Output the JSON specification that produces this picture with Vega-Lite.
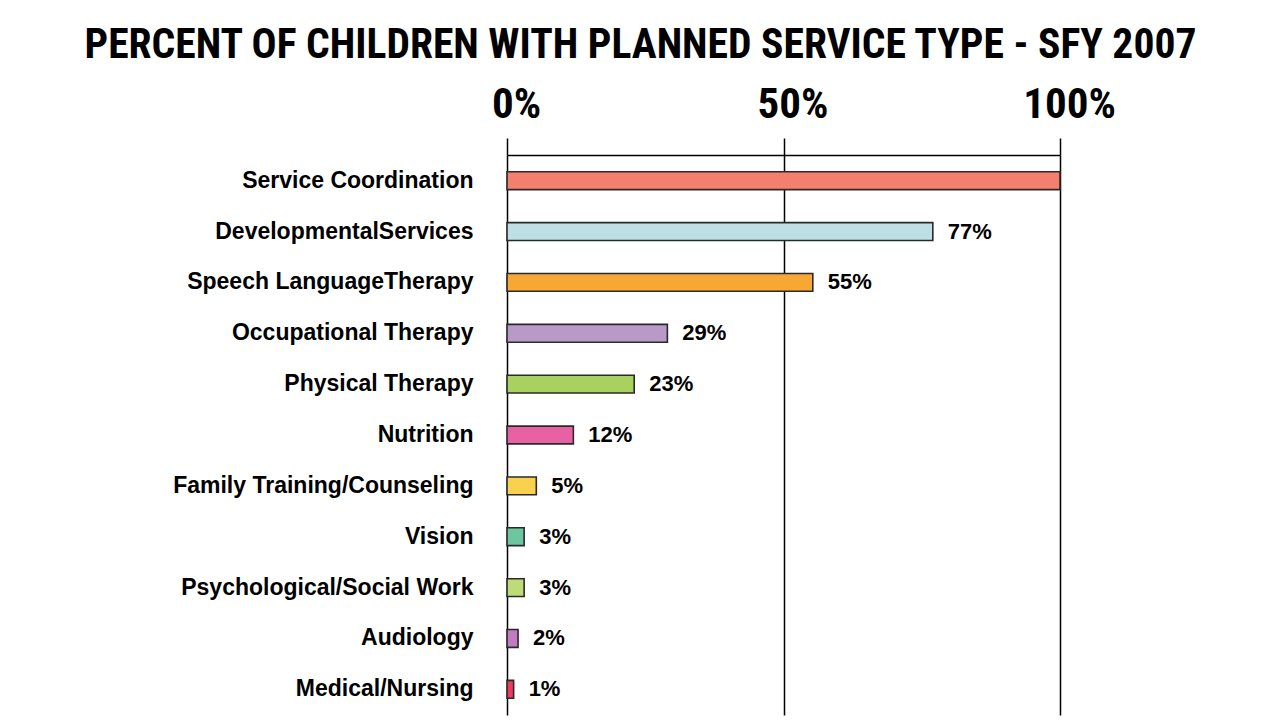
{
  "$schema": "https://vega.github.io/schema/vega-lite/v6.json",
  "width": 553,
  "height": 560,
  "autosize": {"type": "none"},
  "padding": {"left": 507, "top": 155, "right": 211, "bottom": 8},
  "background": "white",
  "title": {
    "text": "PERCENT OF CHILDREN WITH PLANNED SERVICE TYPE - SFY 2007",
    "font": "Roboto Condensed, Liberation Sans, sans-serif",
    "fontSize": 41.6,
    "fontWeight": "bold",
    "color": "#000000",
    "anchor": "middle",
    "dx": -143,
    "offset": 16
  },
  "config": {
    "view": {"stroke": null},
    "axis": {"labelColor": "#000000"}
  },
  "data": {
    "values": [
      {"service": "Service Coordination", "value": 100, "label": "", "order": 1},
      {"service": "DevelopmentalServices", "value": 77, "label": "77%", "order": 2},
      {"service": "Speech LanguageTherapy", "value": 55.3, "label": "55%", "order": 3},
      {"service": "Occupational Therapy", "value": 29, "label": "29%", "order": 4},
      {"service": "Physical Therapy", "value": 23, "label": "23%", "order": 5},
      {"service": "Nutrition", "value": 12, "label": "12%", "order": 6},
      {"service": "Family Training/Counseling", "value": 5.3, "label": "5%", "order": 7},
      {"service": "Vision", "value": 3.1, "label": "3%", "order": 8},
      {"service": "Psychological/Social Work", "value": 3.1, "label": "3%", "order": 9},
      {"service": "Audiology", "value": 2, "label": "2%", "order": 10},
      {"service": "Medical/Nursing", "value": 1.2, "label": "1%", "order": 11}
    ]
  },
  "encoding": {
    "y": {
      "field": "service",
      "type": "nominal",
      "sort": {"field": "order", "op": "min", "order": "ascending"},
      "scale": {"paddingInner": 0.65, "paddingOuter": 0.33},
      "axis": {
        "title": null,
        "domain": false,
        "ticks": false,
        "labelFont": "Liberation Sans, Arial, sans-serif",
        "labelFontSize": 23,
        "labelFontWeight": "bold",
        "labelColor": "#000000",
        "labelPadding": 34,
        "labelLimit": 400
      }
    }
  },
  "layer": [
    {
      "mark": {"type": "bar", "stroke": "#2a2a2a", "strokeWidth": 1.6},
      "encoding": {
        "x": {
          "field": "value",
          "type": "quantitative",
          "scale": {"domain": [0, 100], "nice": false},
          "axis": {
            "orient": "top",
            "title": null,
            "values": [0, 50, 100],
            "labelExpr": "datum.value + '%'",
            "labelFont": "Roboto Condensed, Liberation Sans, sans-serif",
            "labelFontSize": 43,
            "labelFontWeight": "bold",
            "labelColor": "#000000",
            "labelBaseline": "alphabetic",
            "labelPadding": 21,
            "labelOffset": 9,
            "labelFlush": false,
            "labelOverlap": false,
            "tickSize": 17,
            "tickColor": "#000000",
            "tickWidth": 1.5,
            "domainColor": "#000000",
            "domainWidth": 1.5,
            "grid": true,
            "gridColor": "#000000",
            "gridWidth": 1.5,
            "gridOpacity": 1
          }
        },
        "color": {
          "field": "service",
          "type": "nominal",
          "sort": {"field": "order", "op": "min", "order": "ascending"},
          "scale": {
            "range": ["#F47F6E", "#BEE0E4", "#F7A733", "#B89AC8", "#A9D15F", "#E862A3", "#FAD14E", "#6CC69E", "#BFDB78", "#C27BC2", "#EE3A5E"]
          },
          "legend": null
        }
      }
    },
    {
      "mark": {
        "type": "text",
        "align": "left",
        "baseline": "middle",
        "dx": 15,
        "font": "Liberation Sans, Arial, sans-serif",
        "fontSize": 22,
        "fontWeight": "bold",
        "color": "#000000"
      },
      "encoding": {
        "x": {"field": "value", "type": "quantitative"},
        "text": {"field": "label"}
      }
    }
  ]
}
